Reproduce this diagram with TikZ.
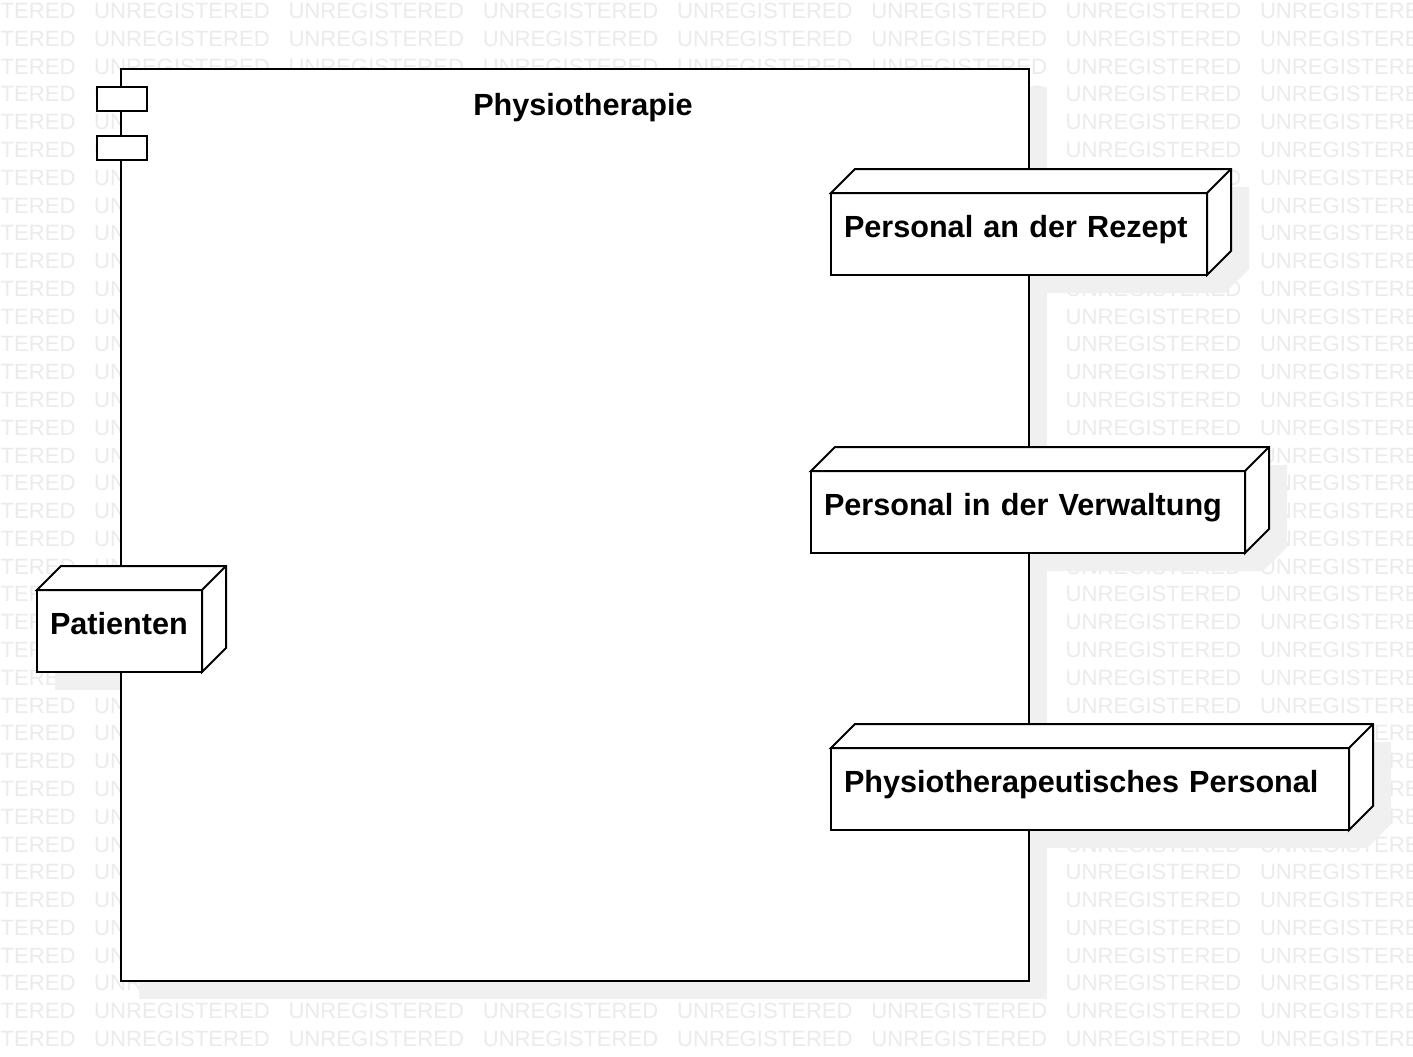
\documentclass[tikz,border=0pt]{standalone}
\usepackage{fontspec}
\setmainfont{Liberation Sans}
\usepackage{tikz}
\usetikzlibrary{calc}
\pgfdeclarelayer{physiobg}
\pgfsetlayers{physiobg,main}

\tikzset{
	physiocomp/.style={draw, fill=white, line width=2pt, outer sep=0pt, inner sep=0pt},
	compicon/.style={draw, fill=white, line width=2pt, outer sep=0pt, inner sep=0pt, minimum width=50, minimum height=24},
	depnode/.style={draw, fill=white, line width=2pt, outer sep=0pt, inner xsep=13, inner ysep=0pt, minimum height=82, align=left, text height=22, text depth=15.5, anchor=north west, font=\bfseries\fontsize{30.6}{36}\selectfont},
	depside/.style={draw, fill=white, line width=2pt, line join=miter},
	depshadow/.style={fill=black!6, transform canvas={xshift=18pt, yshift=-18pt}},
	watermark/.style={text=black!8, inner sep=0pt, anchor=west, font=\fontsize{22.1}{26}\selectfont},
}

\begin{document}
\begin{tikzpicture}[x=1pt, y=-1pt]
	\useasboundingbox (0,0) rectangle (1413,1057);
	
	\node[physiocomp, anchor=north west, minimum width=908, minimum height=912] at (121,69) (physio) {};
	\node[compicon] at (122,99) (icon1) {};
	\node[compicon] at (122,148) (icon2) {};
	\node[anchor=base, font=\bfseries\fontsize{30.6}{36}\selectfont] at (583,115) (titel) {Physiotherapie};
	
	\node[depnode, text width=139] at (37,590) (patienten) {Patienten};
	\node[depnode, text width=350] at (831,193) (rezept) {Personal an der Rezept};
	\node[depnode, text width=408] at (811,471) (verwaltung) {Personal in der Verwaltung};
	\node[depnode, text width=492] at (831,748) (physpers) {Physiotherapeutisches Personal};
	
	\foreach \nd in {patienten,rezept,verwaltung,physpers} {
		\draw[depside] (\nd.north west) -- ++(24,-24) -- ($(\nd.north east)+(24,-24)$) -- ($(\nd.south east)+(24,-24)$) -- (\nd.south east) -- (\nd.north east) -- cycle;
		\draw[depside] (\nd.north east) -- ++(24,-24);
	}
	
	\begin{pgfonlayer}{physiobg}
		\fill[white] (0,0) rectangle (1413,1057);
		\begin{scope}
			\clip (0,0) rectangle (1413,1057);
			\foreach \row in {0,...,37} {
				\foreach \col in {-1,...,6} {
					\node[watermark] at ({94+194.3*\col},{11+27.78*\row}) (wm-\row-\col) {UNREGISTERED};
				}
			}
		\end{scope}
		\fill[depshadow] (physio.north west) rectangle (physio.south east);
		\foreach \nd in {patienten,rezept,verwaltung,physpers} {
			\fill[depshadow] (\nd.north west) -- ++(24,-24) -- ($(\nd.north east)+(24,-24)$) -- ($(\nd.south east)+(24,-24)$) -- (\nd.south east) -- (\nd.south west) -- cycle;
		}
	\end{pgfonlayer}
	
\end{tikzpicture}
\end{document}
